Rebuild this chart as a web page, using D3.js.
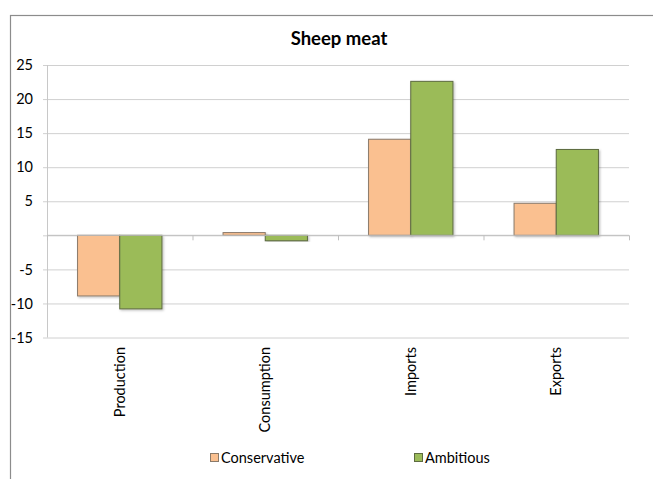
<!DOCTYPE html>
<html><head><meta charset="utf-8">
<script src="https://cdn.jsdelivr.net/npm/d3@7"></script>
<style>html,body{margin:0;padding:0;background:#fff;}svg{display:block;}</style>
</head><body>
<div id="chart"></div>
<script>
const categories = ["Production", "Consumption", "Imports", "Exports"];
const seriesNames = ["Conservative", "Ambitious"];
const conservative = [-8.9, 0.4, 14.1, 4.7];
const ambitious = [-10.8, -0.8, 22.6, 12.6];
const yTicks = [-15, -10, -5, 0, 5, 10, 15, 20, 25];
const yTickLabels = ["-15", "-10", "-5", "", "5", "10", "15", "20", "25"];
const colors = ["#FAC090", "#9BBB59"];
const chartTitle = "Sheep meat";

const W = 653, H = 479;
const FONT = "Lato, 'Open Sans', sans-serif";
const svg = d3.select("#chart").append("svg").attr("width", W).attr("height", H);

// outer chart border (extends past the right/bottom edge)
svg.append("rect").attr("x", 10.5).attr("y", 15.5).attr("width", 700).attr("height", 520)
  .attr("fill", "#fff").attr("stroke", "#8c8c8c").attr("stroke-width", 1.2);

const pLeft = 47, pRight = 629, pTop = 65, pBottom = 337.5;
const y = d3.scaleLinear().domain([-15, 25]).range([pBottom, pTop]);
const x0 = d3.scaleBand().domain(categories).range([pLeft, pRight]).paddingInner(0.42).paddingOuter(0.21);
const x1 = d3.scaleBand().domain(seriesNames).range([0, x0.bandwidth()]);

// gridlines + y axis
const yAxis = d3.axisLeft(y).tickValues(yTicks).tickSize(-(pRight - pLeft)).tickPadding(0)
  .tickFormat((d, i) => yTickLabels[i]);
const gy = svg.append("g").attr("transform", `translate(${pLeft},0)`).call(yAxis);
gy.select(".domain").remove();
gy.selectAll(".tick line").attr("stroke", "#d0d0d0").attr("stroke-width", 1).attr("x1", -4);
gy.selectAll(".tick text").attr("x", -14).attr("fill", "#000")
  .style("font-family", FONT).style("font-size", "14.5px");
svg.append("line").attr("x1", pLeft + 0.5).attr("x2", pLeft + 0.5).attr("y1", pTop).attr("y2", pBottom)
  .attr("stroke", "#c8c8c8");

// bars
const data = categories.map((c, i) => ({cat: c, vals: [conservative[i], ambitious[i]]}));
const defs = svg.append("defs");
const f = defs.append("filter").attr("id", "sh").attr("x", "-10%").attr("y", "-10%").attr("width", "130%").attr("height", "130%");
f.append("feDropShadow").attr("dx", 1.2).attr("dy", 1.2).attr("stdDeviation", 0.8).attr("flood-color", "#000").attr("flood-opacity", 0.25);

const groups = svg.append("g").selectAll("g").data(data).join("g")
  .attr("transform", d => `translate(${x0(d.cat)},0)`);
groups.selectAll("rect").data(d => d.vals.map((v, j) => ({s: seriesNames[j], v, j})))
  .join("rect")
  .attr("x", d => x1(d.s))
  .attr("width", x1.bandwidth())
  .attr("y", d => y(Math.max(0, d.v)))
  .attr("height", d => Math.abs(y(d.v) - y(0)))
  .attr("fill", d => colors[d.j])
  .attr("stroke", d => d.j === 0 ? "#8a7a6a" : "#5d6b40")
  .attr("stroke-width", 1)
  .attr("filter", "url(#sh)");

// category axis at zero
const xAxisScale = d3.scalePoint().domain(d3.range(categories.length + 1)).range([pLeft, pRight]);
const gx = svg.append("g").attr("transform", `translate(0,${y(0)})`);
gx.append("line").attr("x1", pLeft).attr("x2", pRight).attr("stroke", "#bfbfbf");
gx.selectAll("line.tk").data(d3.range(categories.length + 1)).join("line").attr("class", "tk")
  .attr("x1", d => xAxisScale(d) + 0.5).attr("x2", d => xAxisScale(d) + 0.5)
  .attr("y1", 0).attr("y2", 5).attr("stroke", "#bfbfbf");

// category labels (rotated, below plot)
svg.append("g").selectAll("text").data(categories).join("text")
  .attr("transform", d => `translate(${x0(d) + x0.bandwidth() / 2 + 5},347) rotate(-90)`)
  .attr("text-anchor", "end")
  .style("font-family", FONT).style("font-size", "14.5px").attr("fill", "#000")
  .text(d => d);

// title
svg.append("text").attr("x", 339).attr("y", 45).attr("text-anchor", "middle")
  .style("font-family", FONT).style("font-size", "18.5px").style("font-weight", "bold")
  .text(chartTitle);

// legend
const legendX = [210, 414];
const lg = svg.append("g").selectAll("g").data(seriesNames).join("g")
  .attr("transform", (d, i) => `translate(${legendX[i]},453)`);
lg.append("rect").attr("x", 0.5).attr("y", 0.5).attr("width", 8).attr("height", 8)
  .attr("fill", (d, i) => colors[i]).attr("stroke", (d, i) => i === 0 ? "#8a7a6a" : "#5d6b40");
lg.append("text").attr("x", 11).attr("y", 9.5)
  .style("font-family", FONT).style("font-size", "14.5px").text(d => d);
</script>
</body></html>
